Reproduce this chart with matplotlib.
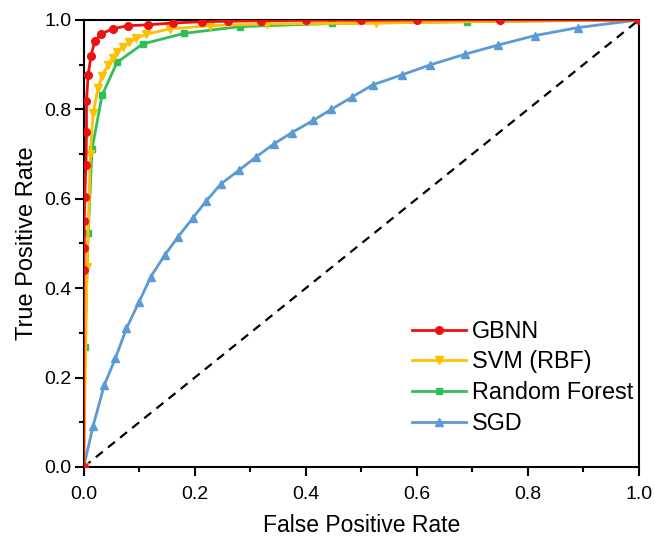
import matplotlib.pyplot as plt

plt.rcParams['font.family'] = ['Liberation Sans', 'DejaVu Sans']

# ROC curve points
gbnn_fpr = [0.0, 0.0, 0.001, 0.001, 0.002, 0.004, 0.005, 0.005, 0.008, 0.013, 0.020, 0.032,
            0.052, 0.079, 0.115, 0.160, 0.213, 0.26, 0.32, 0.40, 0.50, 0.60, 0.75, 1.0]
gbnn_tpr = [0.0, 0.44, 0.49, 0.55, 0.604, 0.676, 0.749, 0.819, 0.877, 0.919, 0.953, 0.969,
            0.980, 0.987, 0.989, 0.993, 0.996, 0.997, 0.998, 0.999, 0.999, 1.0, 1.0, 1.0]

svm_fpr = [0.0, 0.006, 0.012, 0.017, 0.026, 0.033, 0.044, 0.052, 0.060, 0.071, 0.082,
           0.095, 0.113, 0.155, 0.227, 0.33, 0.527, 0.75, 1.0]
svm_tpr = [0.0, 0.448, 0.70, 0.792, 0.848, 0.875, 0.899, 0.915, 0.929, 0.940, 0.950,
           0.959, 0.968, 0.980, 0.987, 0.991, 0.993, 0.997, 1.0]

rf_fpr = [0.0, 0.002, 0.008, 0.015, 0.033, 0.060, 0.106, 0.181, 0.281, 0.447, 0.69, 1.0]
rf_tpr = [0.0, 0.269, 0.524, 0.711, 0.831, 0.905, 0.946, 0.970, 0.985, 0.992, 0.996, 1.0]

sgd_fpr = [0.0, 0.017, 0.037, 0.057, 0.077, 0.100, 0.121, 0.146, 0.170, 0.196, 0.220, 0.247,
           0.280, 0.311, 0.343, 0.375, 0.413, 0.446, 0.484, 0.521, 0.573, 0.623, 0.686,
           0.747, 0.813, 0.891, 1.0]
sgd_tpr = [0.0, 0.092, 0.183, 0.243, 0.310, 0.370, 0.426, 0.474, 0.515, 0.556, 0.594, 0.633,
           0.664, 0.694, 0.723, 0.748, 0.775, 0.800, 0.828, 0.855, 0.877, 0.899, 0.923,
           0.944, 0.965, 0.983, 1.0]

fig = plt.figure(figsize=(6.54, 5.38), dpi=100)
ax = fig.add_axes([0.128, 0.132, 0.849, 0.831])

ax.plot([0, 1], [0, 1], color='black', linestyle=(0, (4, 3)), linewidth=1.6, zorder=1)

l_sgd, = ax.plot(sgd_fpr, sgd_tpr, color='#5b9bd5', marker='^', markersize=6,
                 linewidth=2, markevery=slice(1, -1), label='SGD', zorder=2)
l_rf, = ax.plot(rf_fpr, rf_tpr, color='#2fbf5a', marker='s', markersize=5,
                linewidth=2, label='Random Forest', zorder=3)
l_svm, = ax.plot(svm_fpr, svm_tpr, color='#ffc000', marker='v', markersize=6,
                 linewidth=2, label='SVM (RBF)', zorder=4)
l_gbnn, = ax.plot(gbnn_fpr, gbnn_tpr, color='#ee1111', marker='o', markersize=5.5,
                  linewidth=2, label='GBNN', zorder=5)

ax.set_xlim(0, 1)
ax.set_ylim(0, 1)
ax.set_xticks([0, 0.2, 0.4, 0.6, 0.8, 1.0])
ax.set_yticks([0, 0.2, 0.4, 0.6, 0.8, 1.0])
ax.set_xticks([0.1, 0.3, 0.5, 0.7, 0.9], minor=True)
ax.set_yticks([0.1, 0.3, 0.5, 0.7, 0.9], minor=True)
ax.xaxis.set_major_formatter(plt.FormatStrFormatter('%.1f'))
ax.yaxis.set_major_formatter(plt.FormatStrFormatter('%.1f'))
ax.tick_params(which='major', direction='out', length=6.5, width=1.5, labelsize=14)
ax.tick_params(which='minor', direction='out', length=3.5, width=1.5)
ax.tick_params(axis='x', which='major', pad=7)
ax.tick_params(axis='y', which='major', pad=2.5)
for sp in ax.spines.values():
    sp.set_linewidth(1.5)

ax.set_xlabel('False Positive Rate', fontsize=16.5, labelpad=8)
ax.set_ylabel('True Positive Rate', fontsize=17, labelpad=4)

ax.legend(handles=[l_gbnn, l_svm, l_rf, l_sgd], loc='lower left', frameon=False,
          fontsize=16.8, handlelength=2.3, handletextpad=0.26, labelspacing=0.33,
          borderpad=0, borderaxespad=0, bbox_to_anchor=(0.592, 0.072))

fig.savefig('out.png', dpi=100)
